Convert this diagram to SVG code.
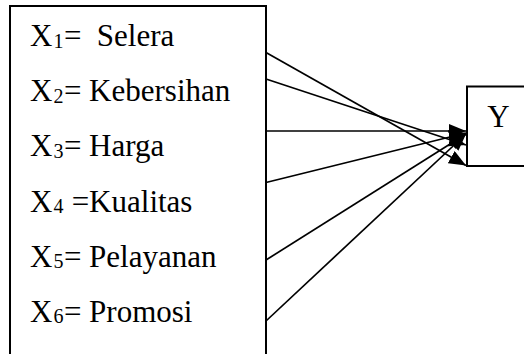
<svg xmlns="http://www.w3.org/2000/svg" width="524" height="354" viewBox="0 0 524 354">
<defs>
<style>
.box{fill:#fff;stroke:#000;stroke-width:2}
.t{font-family:'Liberation Serif','Times New Roman',serif;font-size:31px;fill:#000}
.s{font-size:20px}
.c line{stroke:#000;stroke-width:1.7}
</style>
<marker id="ah" markerUnits="userSpaceOnUse" markerWidth="18" markerHeight="14" viewBox="0 0 18 14" refX="17" refY="7" orient="auto">
<path d="M0,0 L17,7 L0,14 z" fill="#000"/>
</marker>
</defs>
<rect width="524" height="354" fill="#fff"/>
<g id="x-box">
<rect class="box" x="10" y="6" width="256" height="360"/>
<text class="t" x="30" y="46" xml:space="preserve">X<tspan class="s" dx="1" dy="1.5">1</tspan><tspan dx="0.5" dy="-1.5">=  Selera</tspan></text>
<text class="t" x="30" y="101" xml:space="preserve">X<tspan class="s" dx="1" dy="1.5">2</tspan><tspan dx="0.5" dy="-1.5">= Kebersihan</tspan></text>
<text class="t" x="30" y="156" xml:space="preserve">X<tspan class="s" dx="1" dy="1.5">3</tspan><tspan dx="0.5" dy="-1.5">= Harga</tspan></text>
<text class="t" x="30" y="211.5" xml:space="preserve">X<tspan class="s" dx="1" dy="1.5">4</tspan><tspan dx="0.5" dy="-1.5"> =Kualitas</tspan></text>
<text class="t" x="30" y="266.5" xml:space="preserve">X<tspan class="s" dx="1" dy="1.5">5</tspan><tspan dx="0.5" dy="-1.5">= Pelayanan</tspan></text>
<text class="t" x="30" y="321.5" xml:space="preserve">X<tspan class="s" dx="1" dy="1.5">6</tspan><tspan dx="0.5" dy="-1.5">= Promosi</tspan></text>
</g>
<g id="y-box">
<rect class="box" x="467" y="86.5" width="70" height="79.5"/>
<text class="t" x="498.5" y="127" text-anchor="middle">Y</text>
</g>
<g class="c" id="connectors">
<line x1="266" y1="52.5" x2="466" y2="165.5" marker-end="url(#ah)"/>
<line x1="266" y1="79" x2="466" y2="145" marker-end="url(#ah)"/>
<line x1="266" y1="131" x2="466" y2="131" marker-end="url(#ah)"/>
<line x1="266" y1="182.5" x2="466" y2="133" marker-end="url(#ah)"/>
<line x1="266" y1="260" x2="466" y2="134" marker-end="url(#ah)"/>
<line x1="266" y1="321" x2="466" y2="134" marker-end="url(#ah)"/>
</g>
</svg>
